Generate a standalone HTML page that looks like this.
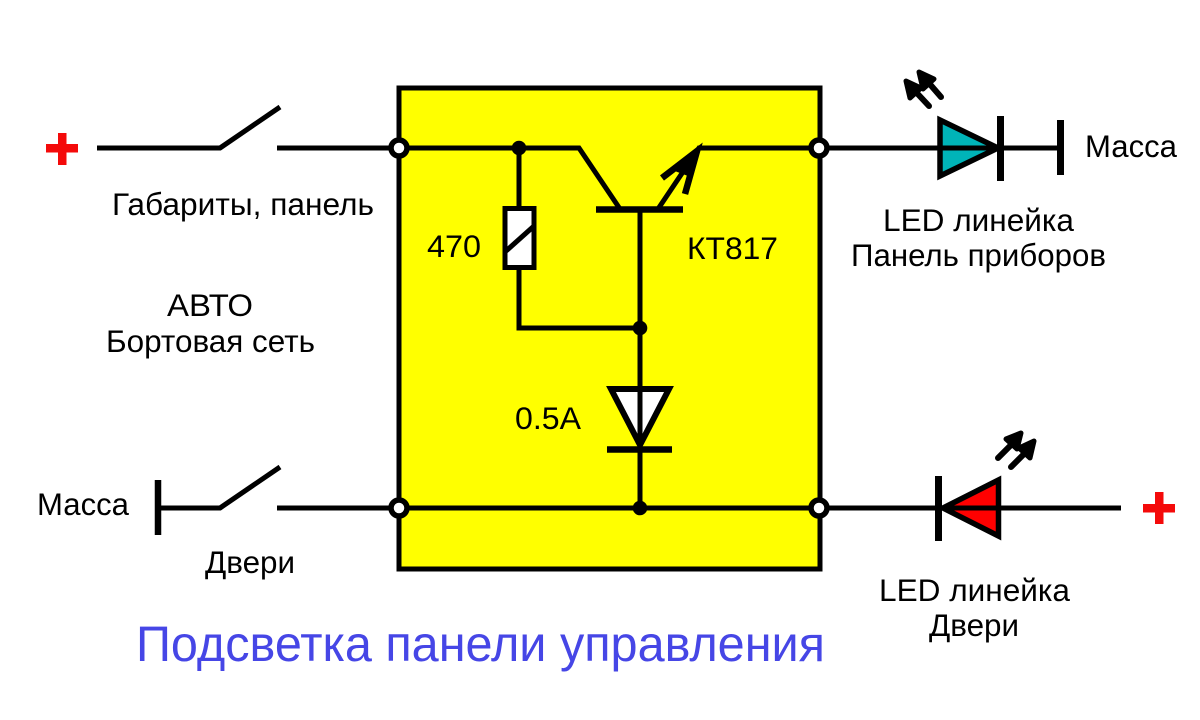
<!DOCTYPE html>
<html><head><meta charset="utf-8"><style>
html,body{margin:0;padding:0;background:#fff;width:1200px;height:720px;overflow:hidden}
svg{display:block}
text{font-family:"Liberation Sans","DejaVu Sans",sans-serif;font-size:31.5px;fill:#000}
</style></head><body>
<svg width="1200" height="720" viewBox="0 0 1200 720" xmlns="http://www.w3.org/2000/svg">
<rect width="1200" height="720" fill="#fff"/>
<rect x="399" y="88" width="421" height="481" fill="#ffff00" stroke="#000" stroke-width="5"/>
<g fill="none" stroke="#000" stroke-width="5" stroke-linecap="butt" stroke-linejoin="miter">
<!-- top left switch -->
<path d="M97 148H220L280 107" stroke-linejoin="round"/>
<path d="M277 148H399"/>
<!-- bottom left -->
<path d="M158 480V535" stroke-width="6.5"/>
<path d="M158 508H220L280 467" stroke-linejoin="round"/>
<path d="M277 508H399"/>
<!-- internal top -->
<path d="M399 148H579L620 209"/>
<path d="M658 209L699 148H820"/>
<path d="M596 209.500H683" stroke-width="6.500"/>
<path d="M640 209V508"/>
<path d="M519 148V208"/>
<path d="M519 268V328H640"/>
<rect x="505" y="208.500" width="29" height="59" fill="#fff" stroke-width="5"/>
<path d="M506 251L534 226" stroke-width="5"/>
<!-- emitter arrow -->
<path d="M662 178L697 151L685 194" stroke-width="6.500"/>
<!-- zener / diode -->
<path d="M611 389H669L640 445Z" fill="#fff" stroke-width="6"/>
<path d="M640 389V447"/>
<path d="M607 449.500H672" stroke-width="6.500"/>
<path d="M399 508H820"/>
<!-- top LED -->
<path d="M820 148H1060"/>
<path d="M940 120V176L998 148Z" fill="#00b4b8" stroke-width="5.500"/>
<path d="M940 148H1000"/>
<path d="M1000.500 116V181" stroke-width="7"/>
<path d="M1060.500 120V175" stroke-width="7"/>
<!-- bottom LED -->
<path d="M820 508H1121"/>
<path d="M998.500 480V536L943 508Z" fill="#ff0000" stroke-width="5.500"/>
<path d="M943 508H998"/>
<path d="M938.500 476V541" stroke-width="7"/>
</g>
<!-- arrow: main dark fill -->
<path d="M699 148L672 170L688 176Z" fill="#000"/>
<!-- dots -->
<circle cx="519" cy="148" r="7.300" fill="#000"/>
<circle cx="640" cy="328" r="7.300" fill="#000"/>
<circle cx="640" cy="508" r="7.300" fill="#000"/>
<!-- terminals -->
<g fill="#fff" stroke="#000" stroke-width="5.500">
<circle cx="399" cy="148" r="8"/>
<circle cx="819" cy="148" r="8"/>
<circle cx="399" cy="508" r="8"/>
<circle cx="819" cy="508" r="8"/>
</g>
<!-- red plus -->
<g fill="#f40a0a">
<rect x="46" y="144" width="32" height="8.500"/><rect x="58" y="133" width="8.500" height="32"/>
<rect x="1143" y="504" width="32" height="8.500"/><rect x="1155" y="492" width="8.500" height="32"/>
</g>
<!-- light arrows top -->
<g stroke="#000" stroke-width="6" fill="#000" stroke-linecap="round" stroke-linejoin="round">
<path d="M915 91L929 106"/><path d="M928 82L941 97"/>
<path d="M906 81L921 88L910 98Z" stroke-width="5"/>
<path d="M919 72L934 79L923 89Z" stroke-width="5"/>
<!-- light arrows bottom -->
<path d="M1012 444L998 458"/><path d="M1025 453L1011 467"/>
<path d="M1021 433L1017 449L1006 439Z" stroke-width="5"/>
<path d="M1034 441L1030 458L1019 448Z" stroke-width="5"/>
</g>
<!-- labels -->
<text x="112" y="215" textLength="262" lengthAdjust="spacingAndGlyphs">Габариты, панель</text>
<text x="167" y="316" textLength="86" lengthAdjust="spacingAndGlyphs">АВТО</text>
<text x="106" y="352" textLength="209" lengthAdjust="spacingAndGlyphs">Бортовая сеть</text>
<text x="37" y="515" textLength="92" lengthAdjust="spacingAndGlyphs">Масса</text>
<text x="205" y="573" textLength="90" lengthAdjust="spacingAndGlyphs">Двери</text>
<text x="427" y="257" textLength="54" lengthAdjust="spacingAndGlyphs">470</text>
<text x="687" y="259" textLength="91" lengthAdjust="spacingAndGlyphs">КТ817</text>
<text x="515" y="429" textLength="66" lengthAdjust="spacingAndGlyphs">0.5А</text>
<text x="1085" y="157" textLength="92" lengthAdjust="spacingAndGlyphs">Масса</text>
<text x="883" y="231" textLength="191" lengthAdjust="spacingAndGlyphs">LED линейка</text>
<text x="851" y="266" textLength="255" lengthAdjust="spacingAndGlyphs">Панель приборов</text>
<text x="879" y="601" textLength="191" lengthAdjust="spacingAndGlyphs">LED линейка</text>
<text x="929" y="636" textLength="90" lengthAdjust="spacingAndGlyphs">Двери</text>
<text x="136" y="661" textLength="689" lengthAdjust="spacingAndGlyphs" style="font-size:50px;fill:#4646e6">Подсветка панели управления</text>
</svg>
</body></html>
